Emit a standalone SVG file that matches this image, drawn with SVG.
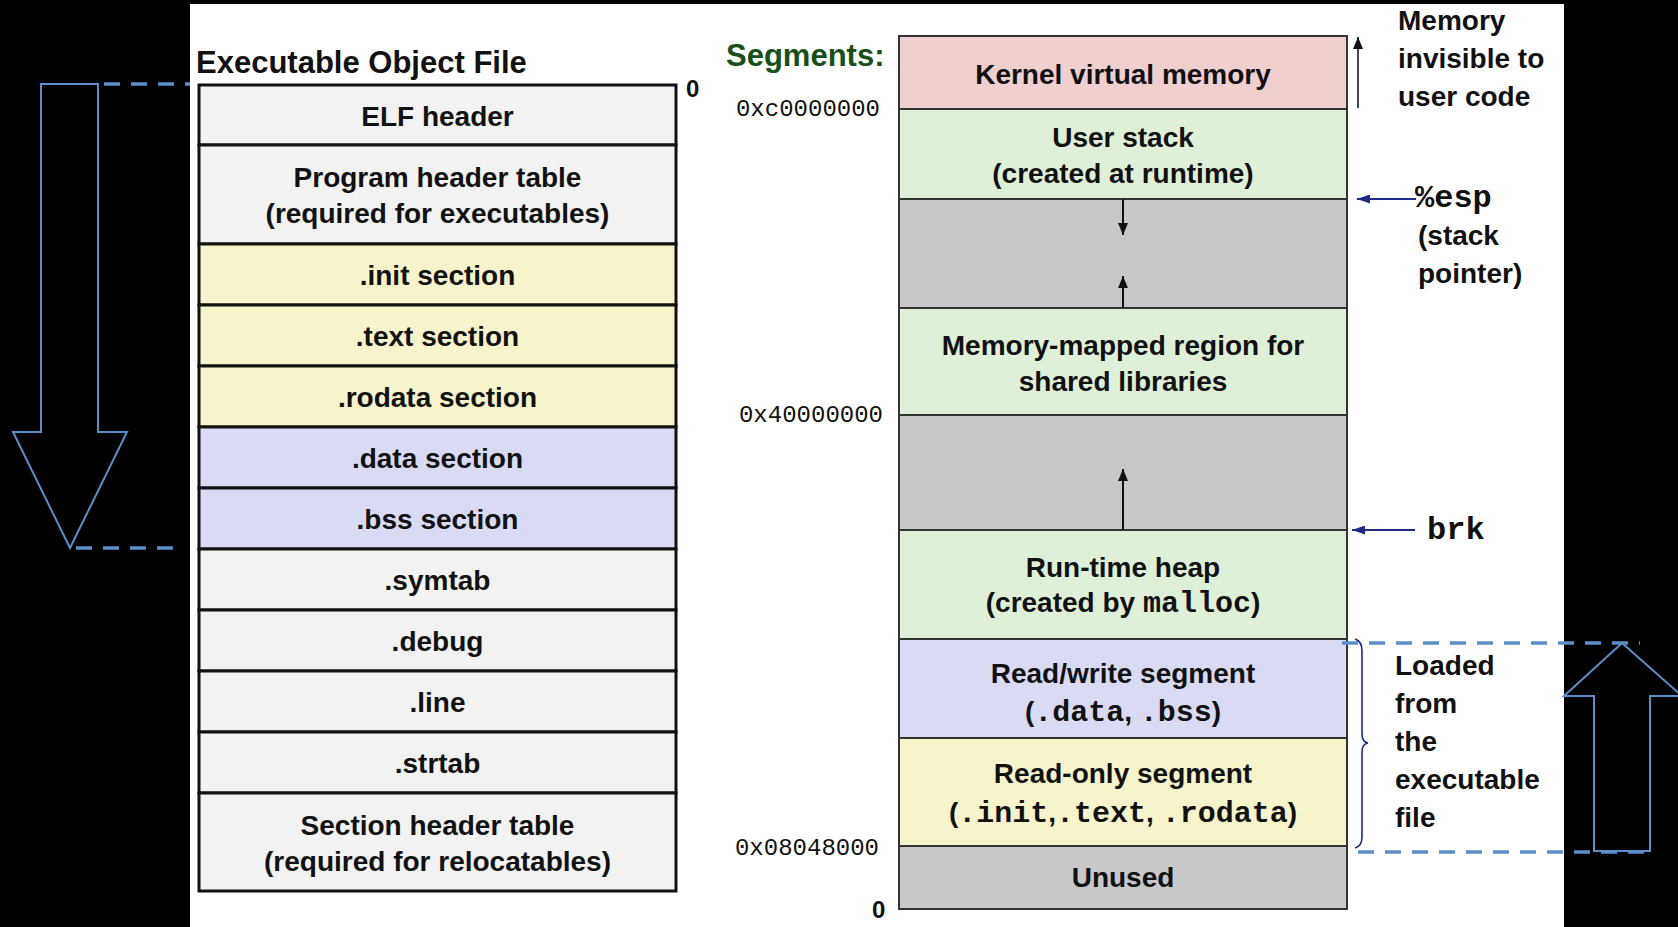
<svg xmlns="http://www.w3.org/2000/svg" width="1678" height="927" viewBox="0 0 1678 927">
<style>
.lbl{font-family:"Liberation Sans",Arial,sans-serif;font-weight:bold;font-size:28px;fill:#111;text-anchor:middle}
.mono{font-family:"Liberation Mono","Courier New",monospace;font-weight:bold;font-size:30px}
.addr{font-family:"Liberation Mono","Courier New",monospace;font-size:24px;fill:#111;text-anchor:end}
.side{font-family:"Liberation Sans",Arial,sans-serif;font-weight:bold;font-size:28px;fill:#111}
.fbox{stroke:#111;stroke-width:3}
.mbox{stroke:#333;stroke-width:2}
.gray1{fill:#f2f2f2}.yel{fill:#f7f4cb}.lav{fill:#d9dbf5}.grn{fill:#dff0d8}.pink{fill:#f0d0cf}.gry{fill:#c8c8c8}
.dash{stroke:#5b8fc9;stroke-width:3.5;stroke-dasharray:16 11;fill:none}
.bigarrow{stroke:#5b8fc9;stroke-width:2;fill:none}
.blk{stroke:#111;stroke-width:2;fill:none}
.navy{stroke:#1d2b86;stroke-width:2;fill:none}
</style>
<defs>
<marker id="ah" viewBox="0 0 12 10" refX="12" refY="5" markerWidth="12" markerHeight="10" markerUnits="userSpaceOnUse" orient="auto"><path d="M0,0 L12,5 L0,10 z" fill="#111"/></marker>
<marker id="ahn" viewBox="0 0 13 9" refX="13" refY="4.5" markerWidth="13" markerHeight="9" markerUnits="userSpaceOnUse" orient="auto"><path d="M0,0 L13,4.5 L0,9 z" fill="#1d2b86"/></marker>
</defs>
<rect x="0" y="0" width="1678" height="927" fill="#000"/>
<rect x="190" y="4" width="1374" height="923" fill="#fff"/>

<text x="196" y="73" style="font-family:'Liberation Sans',Arial,sans-serif;font-weight:bold;font-size:31px;fill:#111">Executable Object File</text>
<text x="686" y="97" style="font-family:'Liberation Sans',Arial,sans-serif;font-weight:bold;font-size:24px;fill:#111">0</text>

<g id="elf-header"><rect class="fbox gray1" x="199" y="85" width="477" height="60"/><text class="lbl" x="437.5" y="126">ELF header</text></g>
<g id="program-header"><rect class="fbox gray1" x="199" y="145" width="477" height="99"/><text class="lbl" x="437.5" y="187">Program header table</text><text class="lbl" x="437.5" y="223">(required for executables)</text></g>
<g id="init-section"><rect class="fbox yel" x="199" y="244" width="477" height="61"/><text class="lbl" x="437.5" y="285">.init section</text></g>
<g id="text-section"><rect class="fbox yel" x="199" y="305" width="477" height="61"/><text class="lbl" x="437.5" y="346">.text section</text></g>
<g id="rodata-section"><rect class="fbox yel" x="199" y="366" width="477" height="61"/><text class="lbl" x="437.5" y="407">.rodata section</text></g>
<g id="data-section"><rect class="fbox lav" x="199" y="427" width="477" height="61"/><text class="lbl" x="437.5" y="468">.data section</text></g>
<g id="bss-section"><rect class="fbox lav" x="199" y="488" width="477" height="61"/><text class="lbl" x="437.5" y="529">.bss section</text></g>
<g id="symtab"><rect class="fbox gray1" x="199" y="549" width="477" height="61"/><text class="lbl" x="437.5" y="590">.symtab</text></g>
<g id="debug"><rect class="fbox gray1" x="199" y="610" width="477" height="61"/><text class="lbl" x="437.5" y="651">.debug</text></g>
<g id="line"><rect class="fbox gray1" x="199" y="671" width="477" height="61"/><text class="lbl" x="437.5" y="712">.line</text></g>
<g id="strtab"><rect class="fbox gray1" x="199" y="732" width="477" height="61"/><text class="lbl" x="437.5" y="773">.strtab</text></g>
<g id="section-header"><rect class="fbox gray1" x="199" y="793" width="477" height="98"/><text class="lbl" x="437.5" y="835">Section header table</text><text class="lbl" x="437.5" y="871">(required for relocatables)</text></g>

<text x="726" y="66" style="font-family:'Liberation Sans',Arial,sans-serif;font-weight:bold;font-size:31px;fill:#174f17">Segments:</text>
<text class="addr" x="880" y="116">0xc0000000</text>
<text class="addr" x="883" y="422">0x40000000</text>
<text class="addr" x="879" y="855">0x08048000</text>
<text x="872" y="918" style="font-family:'Liberation Sans',Arial,sans-serif;font-weight:bold;font-size:24px;fill:#111">0</text>

<g id="kernel-vm"><rect class="mbox pink" x="899" y="36" width="448" height="73"/><text class="lbl" x="1123" y="84">Kernel virtual memory</text></g>
<g id="user-stack"><rect class="mbox grn" x="899" y="109" width="448" height="90"/><text class="lbl" x="1123" y="147">User stack</text><text class="lbl" x="1123" y="183">(created at runtime)</text></g>
<g id="gap-stack"><rect class="mbox gry" x="899" y="199" width="448" height="109"/></g>
<g id="mmap-region"><rect class="mbox grn" x="899" y="308" width="448" height="107"/><text class="lbl" x="1123" y="355">Memory-mapped region for</text><text class="lbl" x="1123" y="391">shared libraries</text></g>
<g id="gap-heap"><rect class="mbox gry" x="899" y="415" width="448" height="115"/></g>
<g id="heap"><rect class="mbox grn" x="899" y="530" width="448" height="109"/><text class="lbl" x="1123" y="577">Run-time heap</text><text class="lbl" x="1123" y="612">(created by <tspan class="mono">malloc</tspan>)</text></g>
<g id="rw-segment"><rect class="mbox lav" x="899" y="639" width="448" height="99"/><text class="lbl" x="1123" y="683">Read/write segment</text><text class="lbl" x="1123" y="721">(<tspan class="mono">.data</tspan>, <tspan class="mono">.bss</tspan>)</text></g>
<g id="ro-segment"><rect class="mbox yel" x="899" y="738" width="448" height="108"/><text class="lbl" x="1123" y="783">Read-only segment</text><text class="lbl" x="1123" y="822">(<tspan class="mono">.init</tspan>,<tspan class="mono">.text</tspan>, <tspan class="mono">.rodata</tspan>)</text></g>
<g id="unused"><rect class="mbox gry" x="899" y="846" width="448" height="63"/><text class="lbl" x="1123" y="887">Unused</text></g>

<g id="labels-right">
<text class="side" x="1398" y="30">Memory</text>
<text class="side" x="1398" y="68">invisible to</text>
<text class="side" x="1398" y="106">user code</text>
<text x="1415" y="207" style="font-family:'Liberation Mono','Courier New',monospace;font-weight:bold;font-size:32px;fill:#111">%esp</text>
<text class="side" x="1418" y="245">(stack</text>
<text class="side" x="1418" y="283">pointer)</text>
<text x="1427" y="539" style="font-family:'Liberation Mono','Courier New',monospace;font-weight:bold;font-size:32px;fill:#111">brk</text>
<text class="side" x="1395" y="675">Loaded</text>
<text class="side" x="1395" y="713">from</text>
<text class="side" x="1395" y="751">the</text>
<text class="side" x="1395" y="789">executable</text>
<text class="side" x="1395" y="827">file</text>
</g>

<g id="connectors">
<line class="blk" x1="1123" y1="199" x2="1123" y2="235" marker-end="url(#ah)"/>
<line class="blk" x1="1123" y1="308" x2="1123" y2="276" marker-end="url(#ah)"/>
<line class="blk" x1="1123" y1="530" x2="1123" y2="469" marker-end="url(#ah)"/>
<line class="blk" x1="1358" y1="108" x2="1358" y2="37" marker-end="url(#ah)" style="stroke:#444"/>
<line class="navy" x1="1416" y1="199" x2="1357" y2="199" marker-end="url(#ahn)"/>
<line class="navy" x1="1415" y1="530" x2="1352" y2="530" marker-end="url(#ahn)"/>
<path class="navy" style="stroke-width:1.6" d="M1355,639 Q1362,641 1362,651 L1362,734 Q1362,742 1368,743 Q1362,744 1362,752 L1362,837 Q1362,846 1355,848"/>
<polygon class="bigarrow" points="41,84 98,84 98,432 127,432 70,548 13,432 41,432"/>
<line class="dash" x1="104" y1="84" x2="190" y2="84"/>
<line class="dash" x1="76" y1="548" x2="180" y2="548"/>
<polygon class="bigarrow" points="1622,643 1682,696 1650,696 1650,851 1594,851 1594,696 1564,696"/>
<line class="dash" x1="1342" y1="643" x2="1640" y2="643"/>
<line class="dash" x1="1358" y1="852" x2="1655" y2="852"/>
</g>
</svg>
